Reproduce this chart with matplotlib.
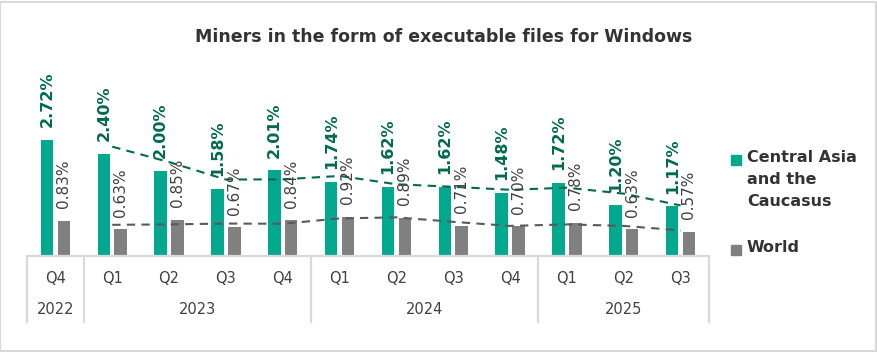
import numpy as np
import matplotlib
matplotlib.use("Agg")
import matplotlib.pyplot as plt
from matplotlib.patches import Rectangle
from matplotlib.lines import Line2D

quarters = ["Q4", "Q1", "Q2", "Q3", "Q4", "Q1", "Q2", "Q3", "Q4", "Q1", "Q2", "Q3"]
years = ["2022", "2023", "2024", "2025"]
year_spans = [(0, 0), (1, 4), (5, 8), (9, 11)]
central_asia = [2.72, 2.40, 2.00, 1.58, 2.01, 1.74, 1.62, 1.62, 1.48, 1.72, 1.20, 1.17]
world = [0.83, 0.63, 0.85, 0.67, 0.84, 0.92, 0.89, 0.71, 0.70, 0.78, 0.63, 0.57]
series_names = ["Central Asia\nand the\nCaucasus", "World"]
title = "Miners in the form of executable files for Windows"

GREEN = "#00A88E"
DGREEN = "#00694E"
GRAY = "#808080"
DGRAY = "#404040"
LGRAY = "#D9D9D9"

plt.rcParams['font.family'] = ['DejaVu Sans']

fig = plt.figure(figsize=(8.78, 3.52), dpi=100)
ax = fig.add_axes([27/878, 1-256/352, (709-27)/878, 196/352])

x = np.arange(len(quarters))
w = 0.22
off = 0.147
ax.bar(x - off, central_asia, w, color=GREEN, zorder=2)
ax.bar(x + off, world, w, color=GRAY, zorder=2)

# moving average trendlines (period 2)
ca = np.array(central_asia)
wo = np.array(world)
ma_ca = (ca[1:] + ca[:-1]) / 2
ma_wo = (wo[1:] + wo[:-1]) / 2
ax.plot(x[1:], ma_ca, color=DGREEN, lw=1.5, linestyle=(0, (4, 3)), zorder=3)
ax.plot(x[1:], ma_wo, color="#595959", lw=1.5, linestyle=(0, (4, 3)), zorder=3)

for xi, v in zip(x, central_asia):
    ax.annotate(f"{v:.2f}%", (xi - off, v), xytext=(0, 9), textcoords="offset points",
                rotation=90, ha="center", va="bottom", fontsize=11.5,
                fontweight="bold", color=DGREEN, zorder=4)
for xi, v in zip(x, world):
    ax.annotate(f"{v:.2f}%", (xi + off, v), xytext=(0, 9), textcoords="offset points",
                rotation=90, ha="center", va="bottom", fontsize=11,
                color=DGRAY, zorder=4)

ax.set_xlim(-0.5, len(quarters) - 0.5)
ax.set_ylim(0, 196/42.7)
ax.set_yticks([])
ax.set_xticks(x)
ax.set_xticklabels(quarters, fontsize=10.5, color=DGRAY)
ax.tick_params(axis="x", length=0, pad=11)
for s in ["top", "left", "right"]:
    ax.spines[s].set_visible(False)
ax.spines["bottom"].set_color(LGRAY)
ax.spines["bottom"].set_linewidth(1.6)

trans = ax.get_xaxis_transform()
sep_depth = 66/196
for b in [-0.5, 0.5, 4.5, 8.5, 11.5]:
    ax.add_line(Line2D([b, b], [0, -sep_depth], transform=trans, color=LGRAY,
                       lw=1.6, clip_on=False))
for yr, (a, b) in zip(years, year_spans):
    ax.text((a + b) / 2, -54/196, yr, transform=trans, ha="center", va="center",
            fontsize=10.5, color=DGRAY)

fig.text(444/878, 1-37/352, title, ha="center", va="center", fontsize=12.5,
         fontweight="bold", color="#333333")

# legend
for (name, col, ytop) in [(series_names[0], GREEN, 155), (series_names[1], GRAY, 245)]:
    fig.patches.append(Rectangle((731/878, 1-(ytop+10)/352), 10/878, 10/352,
                                 transform=fig.transFigure, color=col))
    fig.text(747/878, 1-(ytop-5)/352, name, ha="left", va="top", fontsize=11.5,
             fontweight="bold", color="#333333", linespacing=1.6)

# border
fig.patches.append(Rectangle((0.5/878, 1.5/352), 876/878, 349/352, transform=fig.transFigure,
                             fill=False, edgecolor=LGRAY, lw=1.5))

fig.savefig("out.png", dpi=100)
